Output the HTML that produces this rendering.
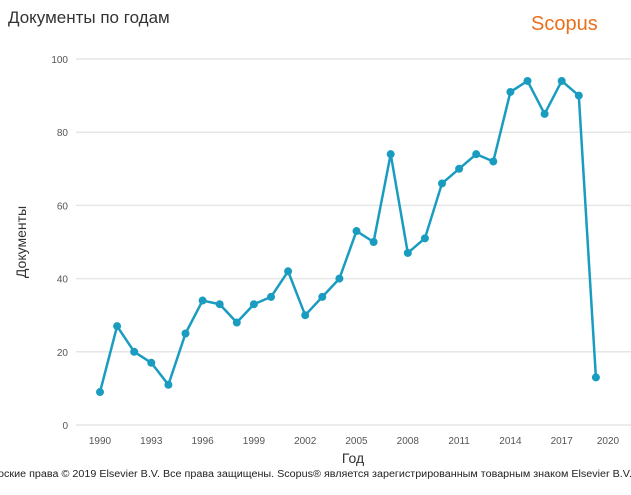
<!DOCTYPE html>
<html><head><meta charset="utf-8"><style>
body{margin:0;width:631px;height:490px;background:#fff;overflow:hidden;font-family:"Liberation Sans",sans-serif}
</style></head><body>
<svg width="631" height="490">
<text x="8" y="23" font-size="17" fill="#333">Документы по годам</text>
<text x="531" y="30" font-size="20" fill="#e9711c">Scopus</text>
<g id="grid"></g><g id="series"></g>
<text transform="translate(26,242) rotate(-90)" text-anchor="middle" font-size="14" fill="#333">Документы</text>
<text x="353" y="463" text-anchor="middle" font-size="14" fill="#333">Год</text>
<text x="-2" y="477" font-size="10" textLength="634" lengthAdjust="spacingAndGlyphs" fill="#222">оские права © 2019 Elsevier B.V. Все права защищены. Scopus® является зарегистрированным товарным знаком Elsevier B.V.</text>
</svg>
<script>
const years=[1990,1991,1992,1993,1994,1995,1996,1997,1998,1999,2000,2001,2002,2003,2004,2005,2006,2007,2008,2009,2010,2011,2012,2013,2014,2015,2016,2017,2018,2019];
const docs=[9,27,20,17,11,25,34,33,28,33,35,42,30,35,40,53,50,74,47,51,66,70,74,72,91,94,85,94,90,13];
const yTicks=[0,20,40,60,80,100];
const xTicks=[1990,1993,1996,1999,2002,2005,2008,2011,2014,2017,2020];
const NS="http://www.w3.org/2000/svg";
const x=v=>100+(v-1990)*17.1;
const y=v=>425-v*3.66;
const g=document.getElementById('grid'),s=document.getElementById('series');
function mk(t,a,p){const e=document.createElementNS(NS,t);for(const k in a)e.setAttribute(k,a[k]);p.appendChild(e);return e;}
yTicks.forEach(v=>{
 const l=mk('line',{x1:76,x2:631,y1:y(v),y2:y(v),stroke:'#e6e6e6','stroke-width':1.5},g);
 
 
 const t=mk('text',{x:68,y:y(v)+4,'text-anchor':'end','font-size':10,fill:'#555'},g);t.textContent=v;
 
 
});
xTicks.forEach(v=>{
 const t=mk('text',{x:x(v)-(v==2020?5:0),y:444,'text-anchor':'middle','font-size':10,fill:'#555'},g);t.textContent=v;
 
 
});
const p=mk('polyline',{points:years.map((yr,i)=>x(yr)+','+y(docs[i])).join(' '),fill:'none',stroke:'#1a9cc1','stroke-width':2.5,'stroke-linejoin':'round'},s);


years.forEach((yr,i)=>{
 const c=mk('circle',{cx:x(yr),cy:y(docs[i]),r:4,fill:'#1a9cc1'},s);
 
 
});
</script>
</body></html>
